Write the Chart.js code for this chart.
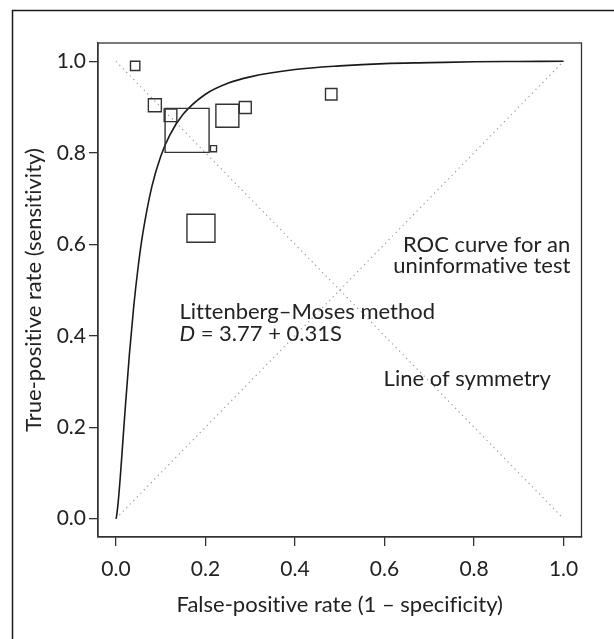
<!DOCTYPE html>
<html>
<head>
<meta charset="utf-8">
<script src="https://cdn.jsdelivr.net/npm/chart.js@4/dist/chart.umd.min.js"></script>
<style>
  html, body { margin: 0; padding: 0; background: #fff; }
  canvas { display: block; }
</style>
</head>
<body>
<canvas id="roc" width="614" height="639"></canvas>
<script>
// Individual studies: false-positive rate, true-positive rate, relative study weight
const studyFPR = [0.043, 0.087, 0.122, 0.159, 0.218, 0.249, 0.289, 0.190, 0.481];
const studyTPR = [0.990, 0.904, 0.882, 0.849, 0.809, 0.881, 0.899, 0.635, 0.928];
const studyWeight = [4.5, 8.7, 8.3, 100, 1.9, 27.3, 7.4, 40.5, 6.8];

// Summary ROC curve (Littenberg–Moses fit)
const curveFPR = [0, 0.001, 0.002, 0.005, 0.01, 0.015, 0.02, 0.03, 0.04, 0.05, 0.06, 0.08,
                  0.10, 0.12, 0.15, 0.20, 0.25, 0.30, 0.40, 0.50, 0.60, 0.70, 0.80, 0.90, 1.0];
const curveTPR = [0, 0.003, 0.009, 0.035, 0.094, 0.162, 0.230, 0.358, 0.466, 0.553, 0.623, 0.725,
                  0.792, 0.838, 0.884, 0.928, 0.952, 0.966, 0.982, 0.990, 0.995, 0.997, 0.999, 0.9996, 1.0];

// Reference lines
const chanceLine = [[0, 0], [1, 1]];
const symmetryLine = [[0, 1], [1, 0]];

// Axis ticks
const tickValues = [0, 0.2, 0.4, 0.6, 0.8, 1.0];
const tickLabels = ['0.0', '0.2', '0.4', '0.6', '0.8', '1.0'];

const FONT = 'Lato, "Open Sans", sans-serif';
const INK = '#222';

const toPoints = (xs, ys) => xs.map((x, i) => ({ x: x, y: ys[i] }));
const boxRadius = w => 44 * Math.sqrt(w / 100) / Math.SQRT2;

const pageFrame = {
  id: 'pageFrame',
  beforeDraw(chart) {
    const c = chart.ctx;
    c.textRendering = 'optimizeSpeed';
    c.save();
    c.fillStyle = '#fff';
    c.fillRect(0, 0, chart.width, chart.height);
    c.strokeStyle = '#1a1a1a';
    c.lineWidth = 1.5;
    c.strokeRect(12.5, 10.5, chart.width + 20, chart.height + 20);
    c.restore();
  },
  afterDraw(chart) {
    const a = chart.chartArea;
    const c = chart.ctx;
    c.save();
    c.strokeStyle = '#333';
    c.lineWidth = 1.3;
    c.strokeRect(a.left, a.top, a.right - a.left, a.bottom - a.top);
    c.restore();
  }
};

const notes = {
  id: 'notes',
  afterDatasetsDraw(chart) {
    const c = chart.ctx;
    const sx = chart.scales.x, sy = chart.scales.y;
    const px = v => sx.getPixelForValue(v);
    const py = v => sy.getPixelForValue(v);
    c.save();
    c.textRendering = 'optimizeSpeed';
    c.fillStyle = INK;
    c.textBaseline = 'alphabetic';
    c.font = '22px ' + FONT;

    c.textAlign = 'right';
    c.fillText('ROC curve for an', px(1.015), py(0.583));
    c.fillText('uninformative test', px(1.015), py(0.537));

    c.textAlign = 'left';
    c.fillText('Littenberg\u2013Moses method', px(0.142), py(0.436));
    c.font = 'italic 22px ' + FONT;
    c.fillText('D', px(0.142), py(0.389));
    const dw = c.measureText('D').width;
    c.font = '22px ' + FONT;
    c.fillText(' = 3.77 + 0.31S', px(0.142) + dw, py(0.389));

    c.fillText('Line of symmetry', px(0.598), py(0.2895));
    c.restore();
  }
};

const axisCommon = {
  type: 'linear',
  min: -0.04,
  max: 1.04,
  afterBuildTicks: s => { s.ticks = tickValues.map(v => ({ value: v })); },
  grid: { drawOnChartArea: false, drawTicks: true, tickLength: 9, color: '#333', lineWidth: 1.3 },
  border: { display: true, color: '#333', width: 1.3 },
  ticks: {
    color: INK,
    font: { family: FONT, size: 21 },
    callback: (v) => tickLabels[tickValues.indexOf(v)]
  }
};

new Chart(document.getElementById('roc'), {
  type: 'scatter',
  data: {
    datasets: [
      {
        label: 'Studies',
        data: toPoints(studyFPR, studyTPR),
        pointStyle: 'rect',
        pointRadius: studyWeight.map(boxRadius),
        backgroundColor: 'rgba(0,0,0,0)',
        borderColor: '#333',
        borderWidth: 1.4,
        order: 0
      },
      {
        label: 'SROC',
        type: 'line',
        data: toPoints(curveFPR, curveTPR),
        borderColor: '#1a1a1a',
        borderWidth: 1.6,
        pointRadius: 0,
        fill: false,
        cubicInterpolationMode: 'monotone',
        order: 1
      },
      {
        label: 'Uninformative',
        type: 'line',
        data: chanceLine.map(p => ({ x: p[0], y: p[1] })),
        borderColor: '#999',
        borderWidth: 1.2,
        borderDash: [1.2, 3.8],
        pointRadius: 0,
        fill: false,
        order: 2
      },
      {
        label: 'Symmetry',
        type: 'line',
        data: symmetryLine.map(p => ({ x: p[0], y: p[1] })),
        borderColor: '#999',
        borderWidth: 1.2,
        borderDash: [1.2, 3.8],
        pointRadius: 0,
        fill: false,
        order: 3
      }
    ]
  },
  options: {
    responsive: false,
    animation: false,
    events: [],
    layout: { padding: { left: 0, top: 43, right: 21, bottom: 0 } },
    plugins: { legend: { display: false }, tooltip: { enabled: false } },
    scales: {
      x: Object.assign({}, axisCommon, {
        position: 'bottom',
        afterFit: s => { s.height = 102; },
        ticks: Object.assign({}, axisCommon.ticks, { padding: 11 }),
        title: {
          display: true,
          text: 'False-positive rate (1 \u2013 specificity)',
          color: INK,
          font: { family: FONT, size: 22 },
          padding: { top: 0, bottom: 21 }
        }
      }),
      y: Object.assign({}, axisCommon, {
        position: 'left',
        afterFit: s => { s.width = 98; },
        ticks: Object.assign({}, axisCommon.ticks, { padding: 3 }),
        title: {
          display: true,
          text: 'True-positive rate (sensitivity)',
          color: INK,
          font: { family: FONT, size: 22 },
          padding: { top: 21, bottom: 0 }
        }
      })
    }
  },
  plugins: [pageFrame, notes]
});
</script>
</body>
</html>
